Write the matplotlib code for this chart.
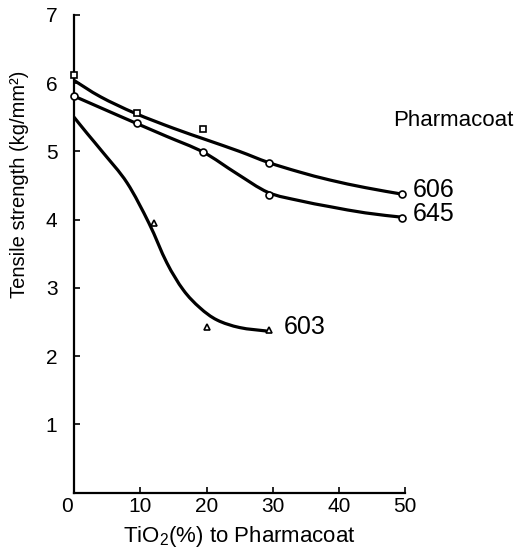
import numpy as np
import matplotlib.pyplot as plt
from matplotlib.path import Path
from matplotlib.patches import PathPatch
from matplotlib.transforms import ScaledTranslation

plt.rcParams['font.family'] = ['Liberation Sans', 'DejaVu Sans']
plt.rcParams['mathtext.fontset'] = 'custom'
plt.rcParams['mathtext.rm'] = 'Liberation Sans'

# curves (x = TiO2 %, y = tensile strength)
curve606_x = [0, 4, 9.2, 15, 20, 25, 29.3, 34, 38.7, 44, 49.2]
curve606_y = [6.04, 5.80, 5.56, 5.34, 5.17, 5.00, 4.84, 4.70, 4.58, 4.47, 4.38]
curve645_x = [0, 4, 9.2, 14, 19.5, 24.5, 29.3, 34, 38.7, 44, 49.2]
curve645_y = [5.81, 5.64, 5.42, 5.22, 4.99, 4.68, 4.40, 4.28, 4.19, 4.10, 4.04]
curve603_x = [0, 2, 4.4, 8, 11.3, 14, 16.5, 19, 21.6, 25, 29]
curve603_y = [5.50, 5.26, 4.98, 4.54, 3.95, 3.37, 2.97, 2.71, 2.53, 2.42, 2.37]

# measured points
pts606_x = [0, 9.5, 19.5]
pts606_y = [6.12, 5.56, 5.33]
pts606_end_x = [29.5, 49.5]
pts606_end_y = [4.83, 4.38]
pts645_x = [0, 9.5, 19.5, 29.5, 49.5]
pts645_y = [5.81, 5.41, 4.99, 4.36, 4.03]
pts603_x = [12, 20, 29.5]
pts603_y = [3.95, 2.43, 2.38]


def smooth_path(xs, ys):
    # Catmull-Rom through the traced points, written as cubic bezier segments
    p = np.column_stack([xs, ys]).astype(float)
    p = np.vstack([p[0], p, p[-1]])
    verts = [tuple(p[1])]
    codes = [Path.MOVETO]
    for i in range(1, len(p) - 2):
        c1 = p[i] + (p[i + 1] - p[i - 1]) / 6
        c2 = p[i + 1] - (p[i + 2] - p[i]) / 6
        verts += [tuple(c1), tuple(c2), tuple(p[i + 1])]
        codes += [Path.CURVE4] * 3
    return Path(verts, codes)


fig = plt.figure(figsize=(5.22, 5.53), dpi=100)
ax = fig.add_axes([0.142, 0.109, 0.634, 0.864])

for cx, cy in [(curve606_x, curve606_y), (curve645_x, curve645_y), (curve603_x, curve603_y)]:
    ax.add_patch(PathPatch(smooth_path(cx, cy), fill=False, edgecolor='black', lw=2.3,
                           capstyle='round', joinstyle='round'))

ms = 5
kw = dict(mfc='white', mec='black', ms=ms, mew=1.2, ls='none', clip_on=False, zorder=3)
ax.plot(pts606_x, pts606_y, 's', **kw)
ax.plot(pts606_end_x, pts606_end_y, 'o', **kw)
ax.plot(pts645_x, pts645_y, 'o', **kw)
ax.plot(pts603_x, pts603_y, '^', **kw)

ax.text(51.2, 4.44, '606', fontsize=18, va='center', ha='left')
ax.text(51.2, 4.08, '645', fontsize=18, va='center', ha='left')
ax.text(31.6, 2.43, '603', fontsize=18, va='center', ha='left')
ax.text(48.2, 5.46, 'Pharmacoat', fontsize=16, va='center', ha='left')

ax.set_xlim(0, 50)
ax.set_ylim(0, 7)
ax.set_xticks([0, 10, 20, 30, 40, 50])
ax.set_yticks([1, 2, 3, 4, 5, 6, 7])
ax.tick_params(direction='in', length=4, width=1.2, labelsize=15)
ax.tick_params(axis='y', pad=12)
ax.tick_params(axis='x', pad=3)
for s in ['top', 'right']:
    ax.spines[s].set_visible(False)
for s in ['left', 'bottom']:
    ax.spines[s].set_linewidth(1.6)

# "0" sits a bit left of the corner
zero = ax.get_xticklabels()[0]
zero.set_transform(zero.get_transform() + ScaledTranslation(-7 / 100, 0, fig.dpi_scale_trans))

ax.set_xlabel('TiO$_2$(%) to Pharmacoat', fontsize=16, labelpad=6)
ax.set_ylabel('Tensile strength (kg/mm²)', fontsize=14.5)
ax.yaxis.set_label_coords(-0.137, 0.646)

plt.savefig('out.png', dpi=100)
